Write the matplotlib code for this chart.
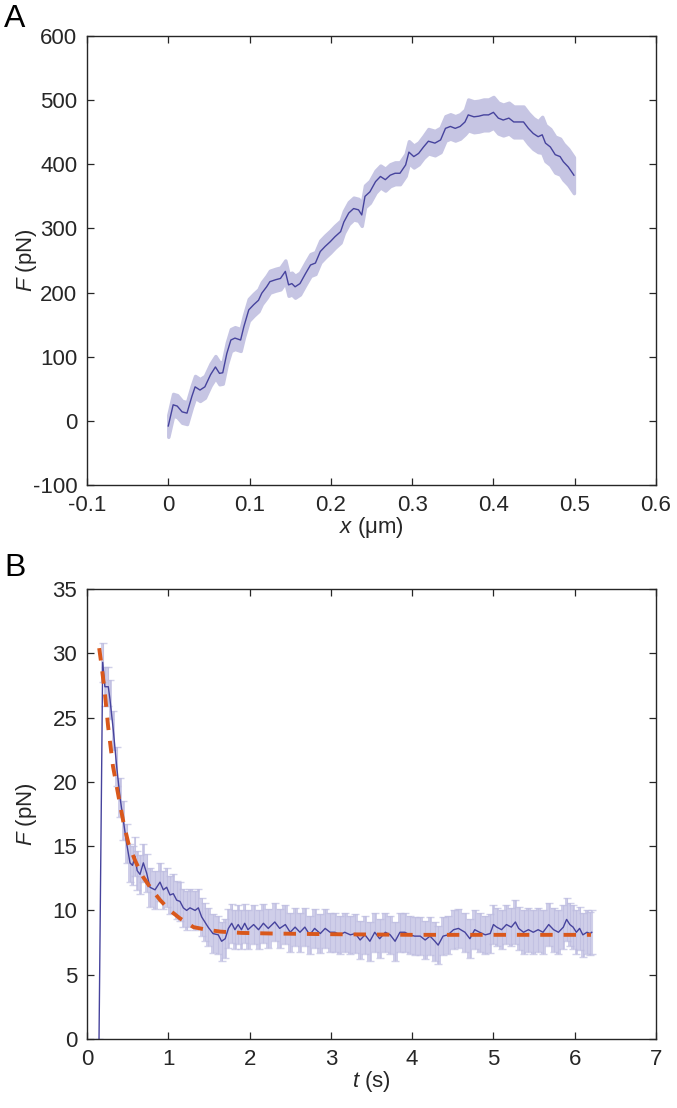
import numpy as np
import matplotlib.pyplot as plt

plt.rcParams['font.family'] = ['Liberation Sans', 'DejaVu Sans']
plt.rcParams['mathtext.fontset'] = 'custom'
plt.rcParams['mathtext.rm'] = 'Liberation Sans'
plt.rcParams['mathtext.it'] = 'Liberation Sans:italic'
plt.rcParams['axes.unicode_minus'] = False

# Panel A: force vs extension
xA = [0.000, 0.006, 0.011, 0.017, 0.023, 0.029, 0.033, 0.039, 0.045, 0.052,
      0.058, 0.063, 0.067, 0.072, 0.077, 0.082, 0.089, 0.093, 0.099, 0.105,
      0.111, 0.115, 0.121, 0.125, 0.132, 0.138, 0.144, 0.148, 0.152, 0.156,
      0.162, 0.169, 0.175, 0.181, 0.187, 0.193, 0.199, 0.205, 0.212, 0.216,
      0.222, 0.228, 0.234, 0.238, 0.242, 0.248, 0.255, 0.261, 0.267, 0.273,
      0.279, 0.285, 0.292, 0.296, 0.302, 0.308, 0.314, 0.320, 0.328, 0.335,
      0.341, 0.347, 0.353, 0.359, 0.365, 0.369, 0.376, 0.382, 0.388, 0.394,
      0.400, 0.406, 0.412, 0.419, 0.425, 0.431, 0.437, 0.443, 0.449, 0.455,
      0.460, 0.464, 0.470, 0.476, 0.482, 0.486, 0.492, 0.499]
FA = [-8, 25, 23, 14, 12, 38, 53, 48, 53, 72,
      84, 74, 75, 105, 126, 129, 126, 147, 173, 181,
      188, 199, 209, 217, 220, 222, 233, 212, 214, 209,
      214, 230, 243, 246, 264, 272, 279, 287, 295, 310,
      324, 331, 329, 321, 350, 357, 373, 381, 376, 383,
      386, 386, 399, 419, 412, 417, 427, 436, 433, 438,
      456, 459, 456, 459, 466, 477, 474, 475, 477, 477,
      481, 472, 469, 472, 466, 466, 466, 456, 448, 443,
      446, 433, 427, 415, 412, 404, 396, 383]
errA = [17] * 57 + [19] * 8 + [24] * 15 + [28] * 8

# Panel B: force vs time, with fit
tB = [0.148, 0.193, 0.22, 0.262, 0.283, 0.324, 0.365, 0.406, 0.447, 0.488,
      0.529, 0.56, 0.59, 0.617, 0.652, 0.693, 0.734, 0.775, 0.837, 0.898,
      0.939, 0.98, 1.021, 1.062, 1.103, 1.144, 1.185, 1.226, 1.267, 1.33,
      1.37, 1.41, 1.45, 1.49, 1.55, 1.615, 1.656, 1.70, 1.74, 1.78,
      1.82, 1.86, 1.90, 1.94, 1.98, 2.05, 2.11, 2.17, 2.23,
      2.31, 2.37, 2.44, 2.50, 2.56, 2.62, 2.68, 2.74, 2.80, 2.87,
      2.93, 2.99, 3.05, 3.11, 3.17, 3.24, 3.30, 3.36, 3.42, 3.48,
      3.54, 3.60, 3.67, 3.73, 3.79, 3.85, 3.91, 3.97, 4.03, 4.10,
      4.16, 4.22, 4.28, 4.32, 4.38, 4.44, 4.51, 4.57,
      4.65, 4.71, 4.77, 4.83, 4.90, 4.96, 5.00, 5.04, 5.10, 5.16,
      5.22, 5.27, 5.31, 5.37, 5.43, 5.49, 5.55, 5.61, 5.68, 5.74,
      5.80, 5.86, 5.90, 5.94, 5.98, 6.02, 6.06, 6.10, 6.15, 6.19, 6.21]
FB = [0.0, 29.3, 27.4, 27.4, 26.4, 24.0, 21.2, 18.8, 17.0, 15.2,
      13.7, 13.5, 14.2, 13.1, 12.8, 13.7, 12.9, 11.8, 11.6, 12.2,
      11.6, 11.8, 11.2, 11.3, 10.8, 10.7, 10.2, 10.0, 10.2, 10.0,
      10.2, 9.5, 9.1, 8.7, 8.2, 8.1, 7.6, 7.8, 8.6, 9.0,
      8.5, 8.9, 8.5, 9.0, 8.5, 8.9, 8.5, 9.0, 8.6,
      9.1, 8.6, 8.9, 8.3, 8.7, 8.3, 8.7, 8.1, 8.6, 8.2,
      8.6, 8.3, 8.3, 8.1, 8.3, 8.1, 8.2, 7.7, 8.1, 7.6,
      8.3, 7.8, 8.3, 8.1, 7.6, 8.3, 8.3, 8.1, 8.0, 8.0,
      7.7, 8.0, 7.6, 7.3, 8.0, 8.1, 8.5, 8.6,
      8.3, 7.8, 8.5, 8.3, 8.1, 8.2, 8.9, 8.7, 8.5, 8.9,
      8.7, 9.1, 8.6, 8.3, 8.5, 8.3, 8.5, 8.3, 8.9, 8.5,
      8.3, 8.7, 9.3, 8.9, 8.7, 8.3, 8.6, 8.1, 8.3, 8.2, 8.3]
errB = [0.0] + [1.5] * 97 + [1.7] * 20

tFit = [0.15, 0.18, 0.22, 0.26, 0.32, 0.39, 0.45, 0.51, 0.59, 0.69, 0.80,
        0.90, 1.02, 1.14, 1.31, 1.47, 1.64, 1.9, 2.3, 3.0, 4.0, 5.0, 6.2]
FFit = [30.4, 29.0, 26.9, 24.3, 21.2, 18.8, 16.8, 15.2, 13.9, 12.6, 11.6,
        10.8, 10.0, 9.4, 8.7, 8.5, 8.35, 8.25, 8.2, 8.15, 8.1, 8.1, 8.1]

xticksA = [-0.1, 0, 0.1, 0.2, 0.3, 0.4, 0.5, 0.6]
xticklabelsA = ['-0.1', '0', '0.1', '0.2', '0.3', '0.4', '0.5', '0.6']
yticksA = [-100, 0, 100, 200, 300, 400, 500, 600]
xticksB = [0, 1, 2, 3, 4, 5, 6, 7]
yticksB = [0, 5, 10, 15, 20, 25, 30, 35]

line_col = '#46439d'
band_col = '#c6c5e3'
fit_col = '#d9581c'
ax_col = '#262626'

fig = plt.figure(figsize=(6.77, 11.08), dpi=100)
axA = fig.add_axes([0.1285, 0.5623, 0.8405, 0.4052])
axB = fig.add_axes([0.1285, 0.0623, 0.8405, 0.4061])

xa = np.array(xA)
fa = np.array(FA)
ea = np.array(errA)
axA.fill_between(xa, fa - ea, fa + ea, color=band_col, lw=2.5,
                 edgecolor=band_col)
axA.plot(xa, fa, color=line_col, lw=1.0)
axA.set_xlim(-0.1, 0.6)
axA.set_ylim(-100, 600)
axA.set_xticks(xticksA, labels=xticklabelsA)
axA.set_yticks(yticksA)
axA.set_xlabel(r'$x$ (μm)')
axA.set_ylabel(r'$F$ (pN)')

tb = np.array(tB)
fb = np.array(FB)
eb = np.array(errB)
axB.fill_between(tb, fb - eb, fb + eb, color='#cfcee9', lw=0, step='mid')
axB.errorbar(tb, fb, yerr=eb, fmt='none', ecolor='#bdbce0', elinewidth=0.8,
             capsize=3, alpha=0.7)
axB.plot(tb, fb, color=line_col, lw=1.0)
axB.plot(tFit, FFit, color=fit_col, lw=2.8, ls=(0, (3.2, 2.8)))
axB.set_xlim(0, 7)
axB.set_ylim(0, 35)
axB.set_xticks(xticksB)
axB.set_yticks(yticksB)
axB.set_xlabel(r'$t$ (s)')
axB.set_ylabel(r'$F$ (pN)')

for ax in (axA, axB):
    ax.tick_params(direction='in', top=True, right=True, length=5, width=0.9,
                   color=ax_col, labelcolor=ax_col, labelsize=16, pad=7)
    for s in ax.spines.values():
        s.set_linewidth(1.0)
        s.set_color(ax_col)
    ax.xaxis.label.set_size(16)
    ax.yaxis.label.set_size(16)
    ax.xaxis.label.set_color(ax_col)
    ax.yaxis.label.set_color(ax_col)
    ax.yaxis.set_label_coords(-0.085, 0.5)
    ax.xaxis.set_label_coords(0.5, -0.066)

fig.text(0.006, 1 - 4 / 1108, 'A', fontsize=23, va='top', color='black')
fig.text(0.006, 1 - 553 / 1108, 'B', fontsize=23, va='top', color='black')

fig.savefig('out.png', dpi=100)
